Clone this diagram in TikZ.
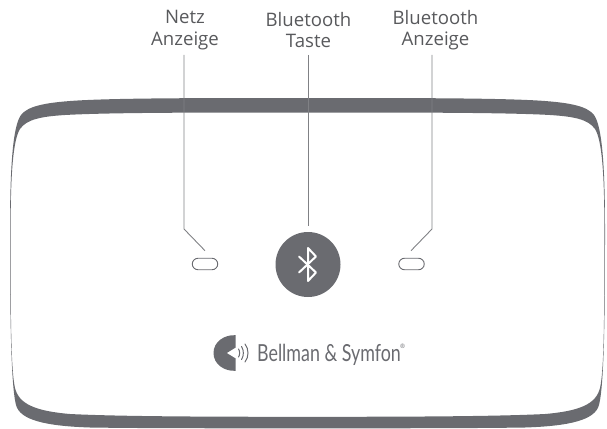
\documentclass[tikz,border=0pt]{standalone}
\usepackage{fontspec}
\setmainfont{Open Sans}
\newfontfamily\logofont{Lato}
\usetikzlibrary{shapes.misc}
\definecolor{dev}{HTML}{6A6B70}
\definecolor{lbl}{HTML}{58595C}
\definecolor{ln}{HTML}{808185}
\tikzset{
  lab/.style={text=lbl,font=\fontsize{18.6}{21.5}\selectfont,align=center,inner sep=0pt,anchor=center},
  lead/.style={draw=ln,line width=0.9pt},
  pill/.style={rounded rectangle,draw=dev,line width=0.9pt,fill=white,minimum width=25.5pt,minimum height=11.5pt,inner sep=0pt},
}
\begin{document}
\begin{tikzpicture}[x=1pt,y=-1pt]
\useasboundingbox (0,0) rectangle (607,428);
% device band
\fill[dev,even odd rule]
 (307.5,98) .. controls (200,98) and (110,98) .. (70,101)
 .. controls (45,103) and (28,106) .. (21,115)
 .. controls (13,126) and (10,165) .. (10,230)
 .. controls (10,320) and (11,385) .. (16,405)
 .. controls (20,420) and (45,426) .. (90,427.5)
 .. controls (140,428.3) and (220,428.3) .. (307.5,428.3)
 .. controls (395,428.3) and (475,428.3) .. (525,427.5)
 .. controls (570,426) and (595,420) .. (599,405)
 .. controls (604,385) and (605,320) .. (605,230)
 .. controls (605,165) and (602,126) .. (594,115)
 .. controls (587,106) and (570,103) .. (545,101)
 .. controls (505,98) and (415,98) .. (307.5,98) -- cycle
 (307.5,112.5) .. controls (200,112.5) and (110,112.5) .. (65,115)
 .. controls (42,116.5) and (27,119) .. (20,129)
 .. controls (13,140) and (10.6,175) .. (10.6,230)
 .. controls (10.6,320) and (11,370) .. (15,388)
 .. controls (19,404) and (35,411) .. (70,414)
 .. controls (120,416.5) and (210,416.8) .. (307.5,416.8)
 .. controls (405,416.8) and (495,416.5) .. (545,414)
 .. controls (580,411) and (596,404) .. (600,388)
 .. controls (604,370) and (604.4,320) .. (604.4,230)
 .. controls (604.4,175) and (602,140) .. (595,129)
 .. controls (588,119) and (573,116.5) .. (550,115)
 .. controls (505,112.5) and (415,112.5) .. (307.5,112.5) -- cycle;
% labels
\node[lab] (netz) at (185,30) {Netz\\Anzeige};
\node[lab] (taste) at (308.5,30) {Bluetooth\\Taste};
\node[lab] (anz) at (435.5,30) {Bluetooth\\Anzeige};
% indicators and button
\node[pill] (pilll) at (205,264) {};
\node[pill] (pillr) at (411.5,264) {};
\node[circle,fill=dev,minimum size=65pt,inner sep=0pt] (btn) at (308,264.5) {};
\draw[white,line width=2pt,line join=round,line cap=round]
 (299,256.5) -- (316,272.5) -- (308,281) -- (308,248) -- (316,256.5) -- (299,272.5);
% leaders
\coordinate (a0) at (184,55); \coordinate (a1) at (184,229); \coordinate (a2) at (205,250.7);
\coordinate (b0) at (308,55);
\coordinate (c0) at (432,55); \coordinate (c1) at (432,229); \coordinate (c2) at (411,250.7);
\draw[lead] (a0) -- (a1) -- (a2);
\draw[lead] (b0) -- (btn.north |- 0,226);
\draw[lead] (c0) -- (c1) -- (c2);
% logo
\fill[dev] (235.7,335.2)
 .. controls (224,334.5) and (213.5,342) .. (213.5,353)
 .. controls (213.5,364) and (224,371.5) .. (235.7,370.8)
 -- (235.7,358.5) -- (226.7,353) -- (235.7,347.5) -- cycle;
\draw[dev,line width=1pt,line cap=round]
 (238.5,349) .. controls (240,351) and (240,355) .. (238.5,357)
 (241.5,346.5) .. controls (244,350) and (244,356) .. (241.5,359.5)
 (245,344) .. controls (249,349) and (249,357) .. (245,362);
\node[inner sep=0pt,anchor=base west,text=dev,font=\logofont\fontsize{23.5}{23}\selectfont,xscale=0.76] (logo) at (257,361.8) {Bellman \& Symfon};
\node[inner sep=0pt,text=dev,font=\fontsize{6}{7}\selectfont] (reg) at (402.5,346.5) {®};
\end{tikzpicture}
\end{document}
